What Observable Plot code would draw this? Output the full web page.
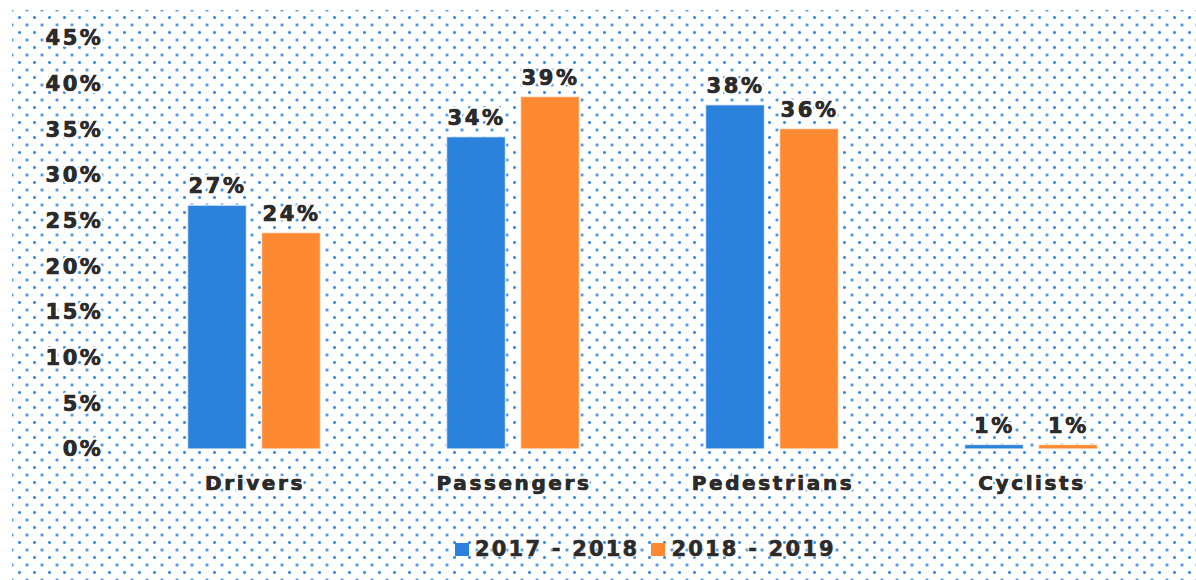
<!DOCTYPE html>
<html>
<head>
<meta charset="utf-8">
<script src="https://cdn.jsdelivr.net/npm/d3@7"></script>
<script src="https://cdn.jsdelivr.net/npm/@observablehq/plot@0.6"></script>
<style>
  html, body { margin: 0; padding: 0; background: #fff; }
  #wrap {
    position: relative; width: 1196px; height: 580px; overflow: hidden;
    font-family: "DejaVu Sans", Verdana, sans-serif; font-weight: bold; color: #2b2b2b;
  }
  #dots {
    position: absolute; left: 12px; top: 10px; right: 0; bottom: 0;
    background-image:
      radial-gradient(circle, #3a8de0 1.2px, rgba(58,141,224,0) 1.7px),
      radial-gradient(circle, #3a8de0 1.2px, rgba(58,141,224,0) 1.7px);
    background-size: 15px 15px, 15px 15px;
    background-position: 0 0, 7.5px 7.5px;
  }
  #chart { position: absolute; left: 0; top: 0; }
  #legend {
    position: absolute; left: 455px; top: 537px; display: flex; align-items: center;
    font-size: 21px; letter-spacing: 2.2px;
  }
  #legend .sw { width: 14px; height: 13px; display: inline-block; margin-right: 6px; }
  #legend .item { display: flex; align-items: center; margin-right: 12px; }
  #legend span.t { text-shadow: 0 0 3px #fff, 0 0 3px #fff; -webkit-text-stroke: 0.6px #2b2b2b; }
</style>
</head>
<body>
<div id="wrap">
  <div id="dots"></div>
  <div id="chart"></div>
  <div id="legend"></div>
</div>
<script>
const categories = ["Drivers", "Passengers", "Pedestrians", "Cyclists"];
const seriesNames = ["2017 - 2018", "2018 - 2019"];
const values2017 = [26.7, 34.2, 37.7, 0.5];
const values2018 = [23.7, 38.6, 35.1, 0.5];
const valueLabels2017 = ["27%", "34%", "38%", "1%"];
const valueLabels2018 = ["24%", "39%", "36%", "1%"];
const yTicks = [0, 5, 10, 15, 20, 25, 30, 35, 40, 45];
const colors = ["#2a82dc", "#fd8a33"];

const data = [];
categories.forEach((c, i) => {
  data.push({category: c, series: seriesNames[0], value: values2017[i], label: valueLabels2017[i]});
  data.push({category: c, series: seriesNames[1], value: values2018[i], label: valueLabels2018[i]});
});

const baseText = {
  fontFamily: "DejaVu Sans, Verdana, sans-serif",
  fontWeight: "bold",
  fill: "#2b2b2b"
};
// white halo underneath, then heavier text on top
function boldText(d, opts) {
  return [
    Plot.text(d, {...opts, ...baseText, stroke: "white", strokeWidth: 5}),
    Plot.text(d, {...opts, ...baseText, stroke: "#2b2b2b", strokeWidth: 0.6})
  ];
}

const plot = Plot.plot({
  width: 1196,
  height: 520,
  marginTop: 38,
  marginBottom: 71,
  marginLeft: 126.5,
  marginRight: 35.5,
  style: {background: "transparent", overflow: "visible"},
  fx: {domain: categories, paddingInner: 0.423, paddingOuter: 0.2, label: null, axis: null},
  x: {domain: seriesNames, paddingInner: 0.2, paddingOuter: 0.1, axis: null},
  y: {domain: [0, 45], axis: null},
  color: {domain: seriesNames, range: colors},
  marks: [
    ...boldText(yTicks, {
      fx: () => categories[0], y: d => d, text: d => d + "%",
      frameAnchor: "left", textAnchor: "end", dx: -77, fontSize: 21
    }),
    Plot.barY(data, {fx: "category", x: "series", y: "value", fill: "series", stroke: "white", strokeWidth: 1.5, strokeOpacity: 0.7}),
    ...boldText(data, {fx: "category", x: "series", y: "value", text: "label", dy: -19, fontSize: 21}),
    ...boldText(categories, {fx: d => d, text: d => d, frameAnchor: "bottom", dy: 40, fontSize: 20})
  ]
});
plot.querySelectorAll("text").forEach(t => t.style.letterSpacing = "2.6px");
document.getElementById("chart").appendChild(plot);

const legend = document.getElementById("legend");
seriesNames.forEach((s, i) => {
  const item = document.createElement("div");
  item.className = "item";
  const sw = document.createElement("span");
  sw.className = "sw";
  sw.style.background = colors[i];
  const t = document.createElement("span");
  t.className = "t";
  t.textContent = s;
  item.appendChild(sw);
  item.appendChild(t);
  legend.appendChild(item);
});
</script>
</body>
</html>
